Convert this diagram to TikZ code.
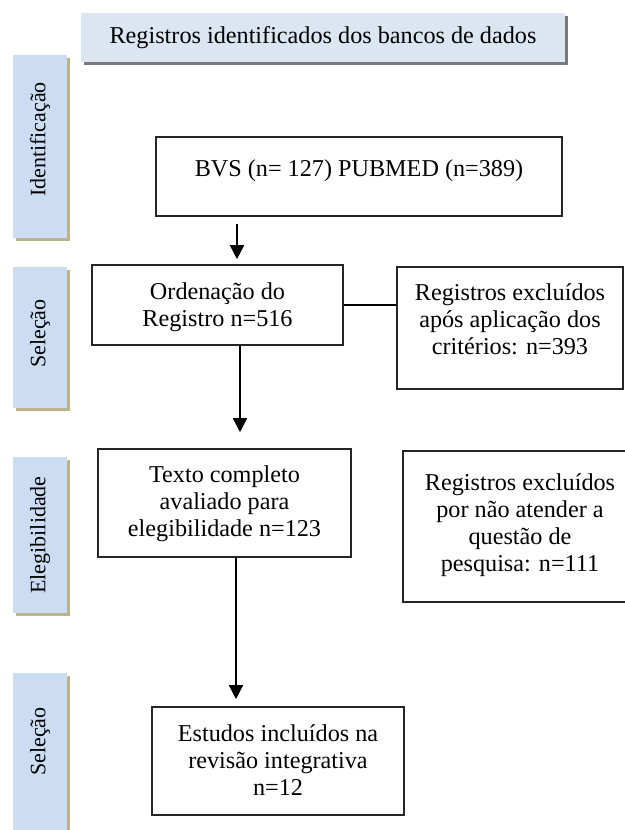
\documentclass[tikz,border=0pt]{standalone}
\usepackage{fontspec}
\setmainfont{Liberation Serif}
\usetikzlibrary{arrows.meta,shadows}

\definecolor{bannerblue}{HTML}{DCE6F2}
\definecolor{barblue}{HTML}{CCDDF3}
\definecolor{barkhaki}{HTML}{BDB38A}
\definecolor{shadowgray}{HTML}{7A7A7A}

\tikzset{
  box/.style={draw=black!85,line width=1.6pt,fill=white,align=center,inner sep=0pt,
    font=\fontsize{24.2}{27}\selectfont},
  stage/.style={fill=barblue,minimum width=54pt,inner sep=0pt,
    font=\fontsize{22}{26}\selectfont,
    general shadow={fill=barkhaki,shadow xshift=3pt,shadow yshift=-3pt}},
  arr/.style={line width=1.6pt,-{Triangle[width=14pt,length=14pt]}}
}

\begin{document}
\begin{tikzpicture}[x=1pt,y=-1pt]
  \useasboundingbox (0,0) rectangle (624,830);
  % fases
  \node[stage,minimum height=183pt,text depth=14pt] (idf) at (40,146.5) {\rotatebox{90}{Identificação}};
  \node[stage,minimum height=141pt,text depth=8pt] (sel) at (40,337.5) {\rotatebox{90}{Seleção}};
  \node[stage,minimum height=156pt] (ele) at (40,535) {\rotatebox{90}{Elegibilidade}};
  \node[stage,minimum height=160pt,text depth=23pt] (inc) at (40,753) {\rotatebox{90}{Seleção}};
  \node[fill=bannerblue,minimum width=484pt,minimum height=49pt,inner sep=0pt,
    font=\fontsize{24.2}{27}\selectfont,
    general shadow={fill=shadowgray,shadow xshift=3pt,shadow yshift=-3pt}]
    (titulo) at (323,37.5) {Registros identificados dos bancos de dados};
  % caixas
  \node[box,minimum width=406pt,minimum height=79pt,text depth=17.7pt] (bvs) at (359,176.5)
    {BVS (n= 127) PUBMED (n=389)};
  \node[box,minimum width=251pt,minimum height=80pt,text depth=0pt] (ord) at (217.5,305)
    {Ordenação do\\Registro n=516};
  \node[box,minimum width=226pt,minimum height=122pt,text depth=17.5pt] (exc1) at (510,328)
    {Registros excluídos\\após aplicação dos\\critérios: n=393};
  \node[box,minimum width=253pt,minimum height=108pt,text depth=3.5pt] (txt) at (224.5,503)
    {Texto completo\\avaliado para\\elegibilidade n=123};
  \node[box,minimum width=234pt,minimum height=151pt,text depth=8.5pt] (exc2) at (520,526.5)
    {Registros excluídos\\por não atender a\\questão de\\pesquisa: n=111};
  \node[box,minimum width=252pt,minimum height=108pt,text depth=2.5pt] (est) at (278,761)
    {Estudos incluídos na\\revisão integrativa\\n=12};
  % ligacoes
  \coordinate (c1) at (237,0);
  \coordinate (c2) at (240,0);
  \coordinate (c3) at (236,0);
  \draw[arr,shorten <=7pt,shorten >=5pt] (bvs.south -| c1) -- (ord.north -| c1);
  \draw[arr,shorten >=16pt] (ord.south -| c2) -- (txt.north -| c2);
  \draw[arr,shorten >=7pt] (txt.south -| c3) -- (est.north -| c3);
  \draw[line width=1.6pt] (ord.east) -- (ord.east -| exc1.west);
\end{tikzpicture}
\end{document}
